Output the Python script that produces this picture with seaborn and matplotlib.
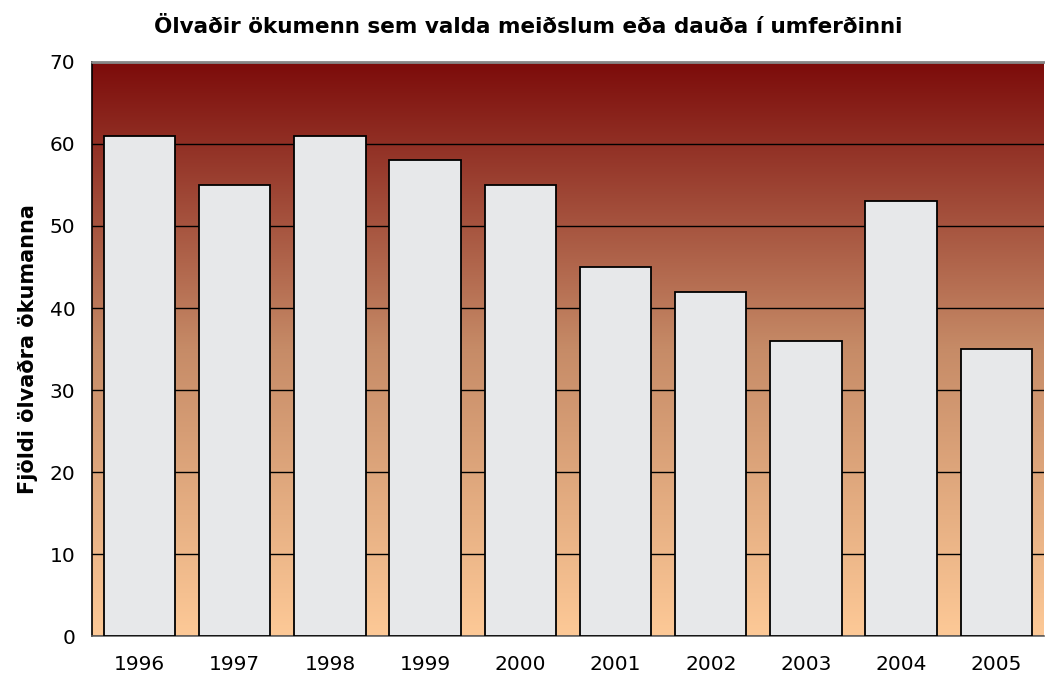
import matplotlib
matplotlib.use('Agg')
import matplotlib.pyplot as plt
from matplotlib.colors import LinearSegmentedColormap
import seaborn as sns
import numpy as np
import pandas as pd

years = ['1996', '1997', '1998', '1999', '2000', '2001', '2002', '2003', '2004', '2005']
drivers = [61, 55, 61, 58, 55, 45, 42, 36, 53, 35]

title = 'Ölvaðir ökumenn sem valda meiðslum eða dauða í umferðinni'
ylabel = 'Fjöldi ölvaðra ökumanna'

sns.set_style('white')
plt.rcParams['font.family'] = ['DejaVu Sans']
plt.rcParams['text.color'] = 'black'
plt.rcParams['axes.labelcolor'] = 'black'
plt.rcParams['xtick.labelcolor'] = 'black'
plt.rcParams['ytick.labelcolor'] = 'black'

df = pd.DataFrame({'year': years, 'count': drivers})

fig = plt.figure(figsize=(10.45, 6.81), dpi=100)
ax = fig.add_axes([0.088, 0.066, 0.911, 0.843])

# background gradient, dark red at the top, peach at the bottom
bg = LinearSegmentedColormap.from_list('bg', ['#fdc997', '#c68b67', '#7c0b0a'])
grad = np.linspace(0, 1, 256).reshape(-1, 1)
ax.imshow(grad, cmap=bg, aspect='auto', origin='lower',
          extent=(-0.5, 9.5, 0, 70), zorder=0)

sns.barplot(data=df, x='year', y='count', color='#e7e8ea', saturation=1,
            width=0.75, edgecolor='black', linewidth=1.3, ax=ax, zorder=3)

ax.set_xlim(-0.5, 9.5)
ax.set_ylim(0, 70)
ax.set_yticks(range(0, 71, 10))
ax.yaxis.grid(True, color='black', linewidth=1.0)
ax.set_axisbelow(False)
for gl in ax.get_ygridlines():
    gl.set_zorder(1)

ax.set_xticks(np.arange(-0.5, 9.5, 1), minor=True)
ax.tick_params(axis='x', which='major', length=0, pad=14, labelsize=14.5)
ax.tick_params(axis='x', which='minor', length=7, width=1, color='#666666', direction='out')
ax.tick_params(axis='y', length=6, width=1, color='#333333', direction='out', pad=6, labelsize=14.5)

for s in ['top', 'right']:
    ax.spines[s].set_visible(False)
ax.spines['left'].set_color('black')
ax.spines['left'].set_linewidth(1.2)
ax.spines['bottom'].set_color('#666666')
ax.spines['bottom'].set_linewidth(1.2)
ax.axhline(70, color='#888888', linewidth=2, zorder=4, clip_on=False)

ax.set_xlabel('')
ax.set_ylabel(ylabel, fontsize=15, fontweight='bold', labelpad=8)
fig.text(0.505, 0.96, title, ha='center', va='center', fontsize=15.5, fontweight='bold')

fig.savefig('out.png', dpi=100)
